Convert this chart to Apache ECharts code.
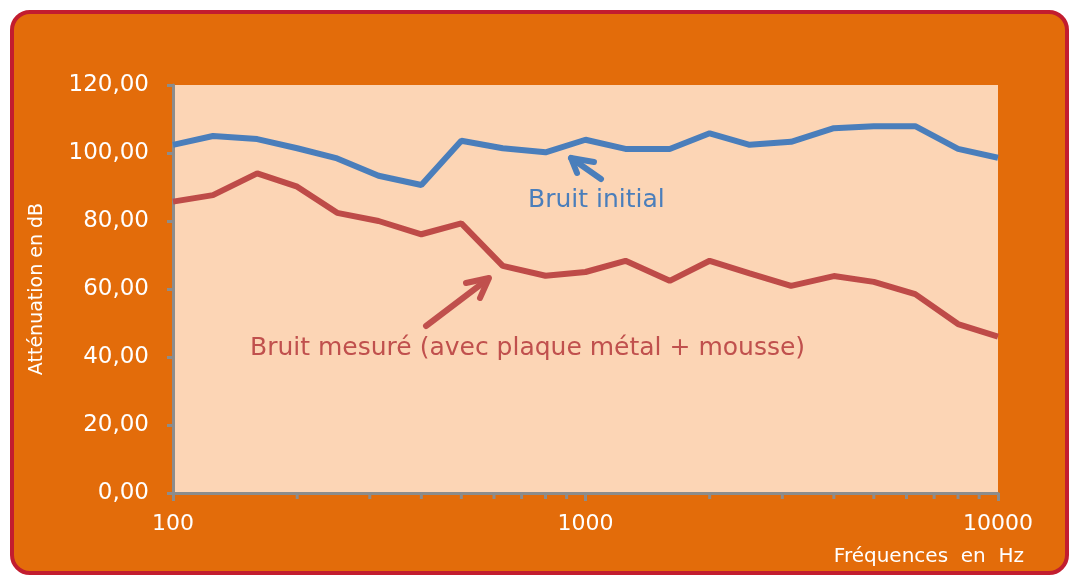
<!DOCTYPE html>
<html>
<head>
<meta charset="utf-8">
<script src="https://cdn.jsdelivr.net/npm/echarts@6/dist/echarts.min.js"></script>
<style>
  html, body { margin: 0; padding: 0; background: #fff; }
  #myChart { width: 1070px; height: 577px; }
</style>
</head>
<body>
<div id="myChart"></div>
<script>
// fréquences (tiers d'octave)
const frequences = [100, 125, 160, 200, 250, 315, 400, 500, 630, 800, 1000,
  1250, 1600, 2000, 2500, 3150, 4000, 5000, 6300, 8000, 10000]
const bruitInitial = [102.4, 105.0, 104.1, 101.4, 98.4, 93.3, 90.6, 103.6, 101.4, 100.2, 103.9,
  101.2, 101.2, 105.8, 102.4, 103.3, 107.3, 107.9, 107.9, 101.2, 98.6]
const bruitMesure = [85.7, 87.6, 94.0, 90.1, 82.4, 80.0, 76.1, 79.3, 66.8, 63.9, 65.0,
  68.3, 62.4, 68.3, 64.6, 60.9, 63.8, 62.1, 58.5, 49.7, 46.0]
const yTicks = [0, 20, 40, 60, 80, 100, 120]
const minorTicks = [200, 300, 400, 500, 600, 700, 800, 900,
  2000, 3000, 4000, 5000, 6000, 7000, 8000, 9000]

const gris = '#8c8c8c'
const police = 'DejaVu Sans'

const myChart = echarts.init(document.getElementById('myChart'))
myChart.setOption({
  animation: false,
  backgroundColor: '#fff',
  grid: { left: 173, top: 85, right: 72, bottom: 84, show: true, backgroundColor: '#fcd5b5', borderWidth: 0 },
  graphic: [
    {
      type: 'rect', z: -10, silent: true,
      shape: { x: 12, y: 12, width: 1055, height: 561, r: 18 },
      style: { fill: '#e36c0a', stroke: '#c21d2f', lineWidth: 4 }
    },
    {
      type: 'text', x: 1024, y: 557,
      style: { text: 'Fréquences  en  Hz', fill: '#fff', font: '20px ' + police, align: 'right', verticalAlign: 'middle' }
    },
    {
      type: 'text', x: 528, y: 200,
      style: { text: 'Bruit initial', fill: '#4a7ebb', font: '25px ' + police, align: 'left', verticalAlign: 'middle' }
    },
    {
      type: 'text', x: 250, y: 348,
      style: { text: 'Bruit mesuré (avec plaque métal + mousse)', fill: '#c0504d', font: '25px ' + police, align: 'left', verticalAlign: 'middle' }
    },
    // flèches
    { type: 'polyline', shape: { points: [[601, 179], [571, 158]] }, style: { stroke: '#4a7ebb', lineWidth: 6, lineCap: 'round', fill: null } },
    { type: 'polyline', shape: { points: [[594, 162], [571, 158], [577, 173]] }, style: { stroke: '#4a7ebb', lineWidth: 6, lineCap: 'round', lineJoin: 'round', fill: null } },
    { type: 'polyline', shape: { points: [[426, 326], [488, 279]] }, style: { stroke: '#c0504d', lineWidth: 6, lineCap: 'round', fill: null } },
    { type: 'polyline', shape: { points: [[466, 283], [489, 278], [480, 298]] }, style: { stroke: '#c0504d', lineWidth: 6, lineCap: 'round', lineJoin: 'round', fill: null } }
  ],
  xAxis: {
    type: 'log',
    logBase: 10,
    min: 100,
    max: 10000,
    axisLine: { lineStyle: { color: gris, width: 3 } },
    axisTick: { show: true, inside: false, length: 8, lineStyle: { color: gris, width: 3 } },
    axisLabel: { color: '#fff', fontSize: 22, fontFamily: police, margin: 20, formatter: v => String(v) },
    splitLine: { show: false }
  },
  yAxis: {
    type: 'value',
    min: yTicks[0],
    max: yTicks[yTicks.length - 1],
    interval: 20,
    name: 'Atténuation en dB',
    nameLocation: 'middle',
    nameRotate: 90,
    nameGap: 126,
    nameTextStyle: { color: '#fff', fontSize: 19, fontFamily: police },
    axisLine: { show: true, lineStyle: { color: gris, width: 3 } },
    axisTick: { show: true, inside: false, length: 6, lineStyle: { color: gris, width: 3 } },
    axisLabel: {
      color: '#fff', fontSize: 23, fontFamily: police, margin: 24,
      formatter: v => v.toFixed(2).replace('.', ',')
    },
    splitLine: { show: false }
  },
  series: [
    {
      name: 'Bruit initial',
      type: 'line',
      symbol: 'none',
      data: frequences.map((f, i) => [f, bruitInitial[i]]),
      lineStyle: { color: '#4a7ebb', width: 6 },
      z: 3
    },
    {
      name: 'Bruit mesuré',
      type: 'line',
      symbol: 'none',
      data: frequences.map((f, i) => [f, bruitMesure[i]]),
      lineStyle: { color: '#be4b48', width: 6 },
      z: 3
    },
    {
      // graduations secondaires de l'axe log
      type: 'custom',
      silent: true,
      clip: false,
      data: minorTicks.map(f => [f, 0]),
      renderItem: (params, api) => {
        const p = api.coord([api.value(0), 0])
        return {
          type: 'line',
          shape: { x1: p[0], y1: p[1], x2: p[0], y2: p[1] + 6 },
          style: { stroke: gris, lineWidth: 3 }
        }
      },
      z: 1
    }
  ]
})
window.addEventListener('resize', () => { myChart.resize() })
</script>
</body>
</html>
